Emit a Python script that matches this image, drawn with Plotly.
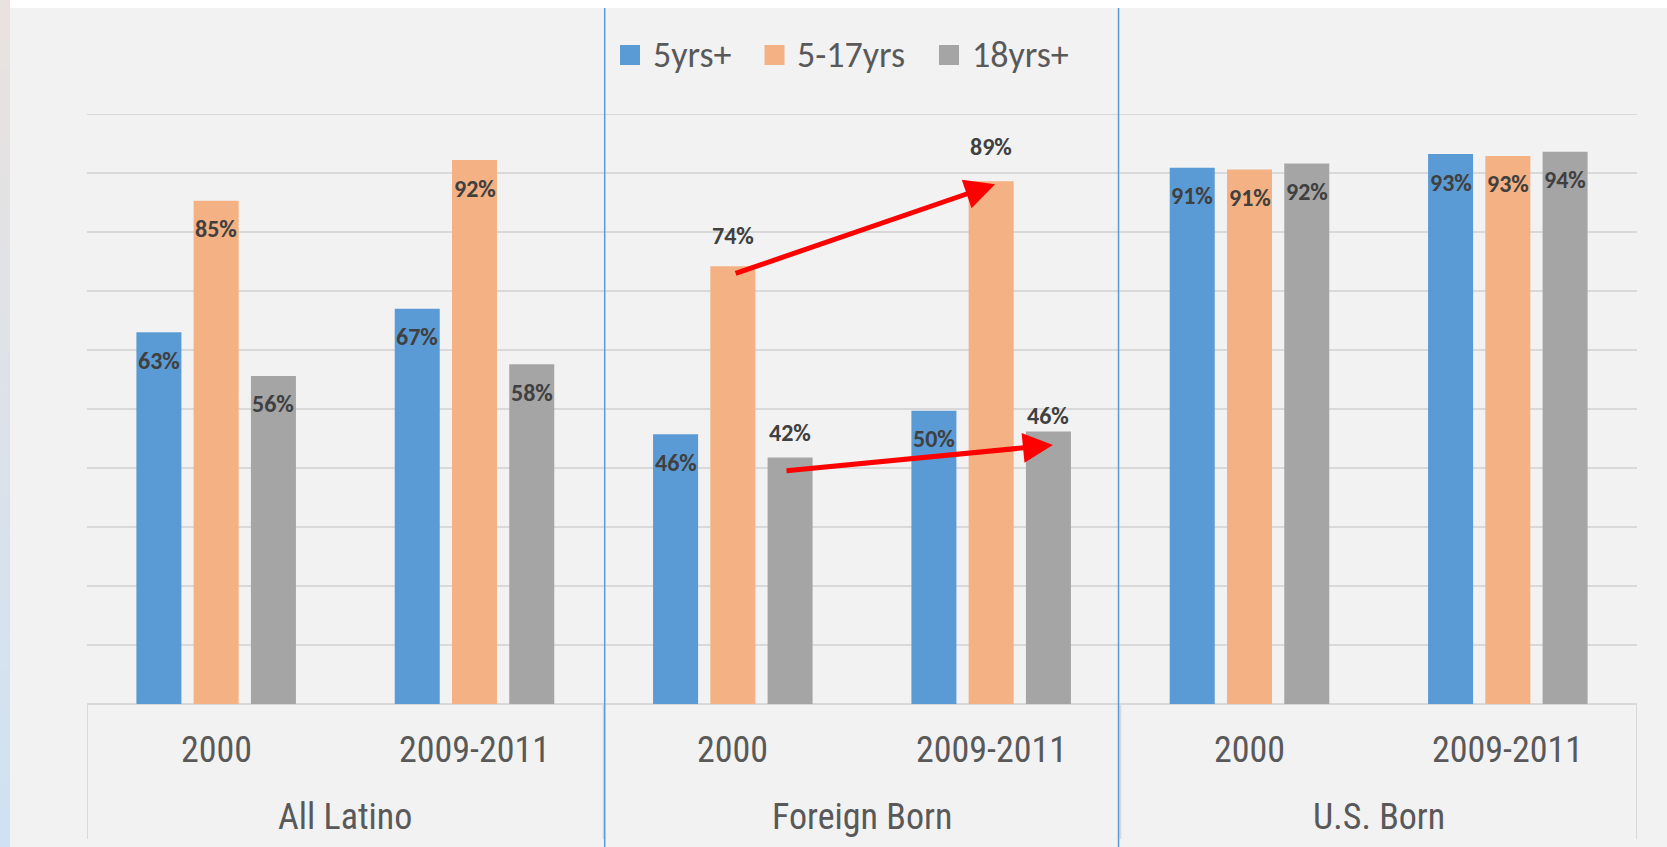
import plotly.graph_objects as go

# ---------------- data ----------------
groups = ["All Latino", "Foreign Born", "U.S. Born"]
periods = ["2000", "2009-2011"]
series_names = ["5yrs+", "5-17yrs", "18yrs+"]
age_5_plus = [0.630, 0.670, 0.457, 0.497, 0.909, 0.932]
age_5_17 = [0.853, 0.922, 0.742, 0.886, 0.906, 0.929]
age_18_plus = [0.556, 0.576, 0.418, 0.462, 0.916, 0.936]

# ---------------- style ----------------
W, H = 1667, 847
ML, MR, MT, MB = 87, 30, 114, 143
PW, PH = W - ML - MR, H - MT - MB
colors = ["#5b9bd5", "#f4b183", "#a5a5a5"]
BG = "#f2f2f2"
GRID = "#d9d9d9"
TXT = "#595959"
LBL = "#404040"
NARROW = "Roboto Condensed, Liberation Sans Narrow, Arial Narrow, sans-serif"
CALIBRI = "Carlito, Calibri, Lato, sans-serif"
BARGAP, GROUPGAP = 0.335, 0.214


def px_x(px):
    return (px - ML) / PW


def px_y(py):
    return (H - MB - py) / PH


cats = list(range(len(groups) * len(periods)))
series = [age_5_plus, age_5_17, age_18_plus]

fig = go.Figure()
for name, vals, col in zip(series_names, series, colors):
    fig.add_trace(go.Bar(x=cats, y=vals, name=name, marker=dict(color=col, line=dict(width=0)),
                         showlegend=False, hoverinfo="skip"))

annotations = []
shapes = []

# top gridline (100%)
shapes.append(dict(type="line", xref="paper", yref="y", x0=0, x1=1, y0=1, y1=1,
                   line=dict(color=GRID, width=2), layer="below"))

# data labels
slot = (1 - BARGAP) / 3
outside_shift = {(1, 2): 31, (1, 3): 35, (2, 2): 25, (2, 3): 16}
for k, vals in enumerate(series):
    for i, v in enumerate(vals):
        x = i + (k - 1) * slot
        ys = outside_shift.get((k, i), -28)
        annotations.append(dict(x=x, y=v, xref="x", yref="y", text=f"{v:.0%}", showarrow=False,
                                yshift=ys, yanchor="middle",
                                font=dict(family=CALIBRI, size=24, color=LBL, weight="bold")))

# category labels
for gi, g in enumerate(groups):
    for pi, p in enumerate(periods):
        annotations.append(dict(x=gi * 2 + pi, y=0, xref="x", yref="paper", text=p, showarrow=False,
                                yshift=-46, yanchor="middle",
                                font=dict(family=NARROW, size=36, color=TXT)))
    annotations.append(dict(x=gi * 2 + 0.5, y=0, xref="x", yref="paper", text=g, showarrow=False,
                            yshift=-113, yanchor="middle",
                            font=dict(family=NARROW, size=36, color=TXT)))

# box lines under the axis
for xb in [-0.5, 1.5, 3.5, 5.5]:
    shapes.append(dict(type="line", xref="x", yref="paper", x0=xb, x1=xb, y0=0, y1=px_y(839),
                       line=dict(color=GRID, width=2)))

# blue separators (full height)
for xb in [1.504, 3.493]:
    shapes.append(dict(type="line", xref="x", yref="paper", x0=xb, x1=xb, y0=px_y(847), y1=px_y(8),
                       line=dict(color="#5b9bd5", width=1.5)))

# white band at top
shapes.append(dict(type="rect", xref="paper", yref="paper", x0=px_x(10), x1=px_x(W), y0=px_y(8), y1=px_y(0),
                   fillcolor="white", line=dict(width=0), layer="above"))
# left gradient strip
n = 24
c0 = (233, 226, 223)
c1 = (207, 226, 243)
for j in range(n):
    t = j / (n - 1)
    c = tuple(round(c0[m] + (c1[m] - c0[m]) * t) for m in range(3))
    shapes.append(dict(type="rect", xref="paper", yref="paper", x0=px_x(0), x1=px_x(10),
                       y0=px_y(H * (j + 1) / n + 0.5), y1=px_y(H * j / n),
                       fillcolor=f"rgb{c}", line=dict(width=0), layer="above"))

# custom legend
leg_sq = [620, 764.5, 939]
leg_tx = [651, 795, 970]
for name, col, sx, tx in zip(series_names, colors, leg_sq, leg_tx):
    shapes.append(dict(type="rect", xref="paper", yref="paper", x0=px_x(sx), x1=px_x(sx + 20),
                       y0=px_y(65), y1=px_y(45), fillcolor=col, line=dict(width=0)))
    annotations.append(dict(x=px_x(tx), y=px_y(55), xref="paper", yref="paper", text=name,
                            showarrow=False, xanchor="left", yanchor="middle",
                            font=dict(family=CALIBRI, size=36, color=TXT)))

# red arrows
for (x0, y0, x1, y1) in [(2.005, 0.729, 3.015, 0.881), (2.202, 0.395, 3.239, 0.439)]:
    annotations.append(dict(x=x1, y=y1, ax=x0, ay=y0, xref="x", yref="y", axref="x", ayref="y",
                            text="", showarrow=True, arrowhead=2, arrowsize=1.2, arrowwidth=5,
                            arrowcolor="#ff0000", standoff=0))

fig.update_layout(
    width=W, height=H,
    margin=dict(l=ML, r=MR, t=MT, b=MB, pad=0),
    paper_bgcolor=BG, plot_bgcolor=BG,
    barmode="group", bargap=BARGAP, bargroupgap=GROUPGAP,
    xaxis=dict(range=[-0.5, 5.5], showgrid=False, zeroline=False, showticklabels=False,
               ticks="", showline=False, fixedrange=True),
    yaxis=dict(range=[0, 1], dtick=0.1, tick0=0, showgrid=True, gridcolor=GRID, gridwidth=2,
               zeroline=True, zerolinecolor=GRID, zerolinewidth=2, showticklabels=False,
               ticks="", showline=False, fixedrange=True),
    annotations=annotations, shapes=shapes,
    showlegend=False,
)

fig.write_html("out.html", config={"displayModeBar": False},
               post_script="document.body.style.margin='0px';document.body.style.overflow='hidden';")
